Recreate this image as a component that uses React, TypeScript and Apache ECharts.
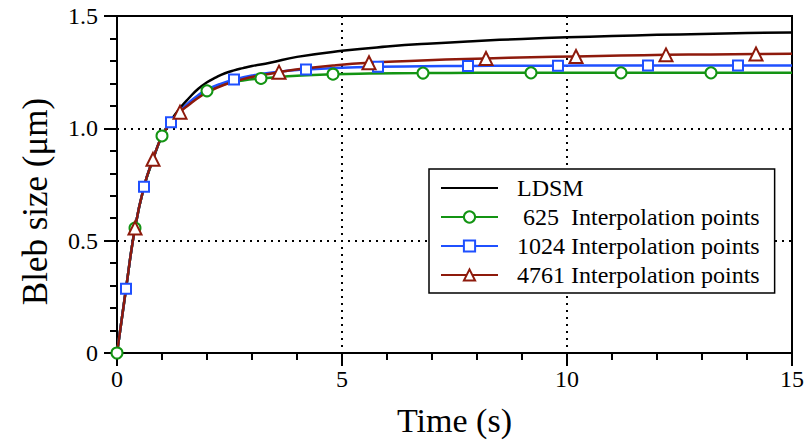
import React, { useEffect, useRef } from "react";
import * as echarts from "echarts";

const xTicks = [0, 5, 10, 15];
const yTicks = [0, 0.5, 1.0, 1.5];

const seriesNames = [
  "LDSM",
  " 625  Interpolation points",
  "1024 Interpolation points",
  "4761 Interpolation points",
];

const ldsmT = [0, 0.2, 0.4, 0.6, 0.8, 1.0, 1.2, 1.4, 1.6, 1.8, 2.0, 2.2, 2.4, 2.6, 2.8, 3.0, 3.4, 4.0, 5.0, 6.0, 7.0, 8.0, 9.0, 10, 11, 12, 13, 14, 15];
const ldsmV = [0, 0.286, 0.556, 0.74, 0.862, 0.966, 1.035, 1.09, 1.135, 1.175, 1.205, 1.227, 1.245, 1.258, 1.268, 1.277, 1.292, 1.318, 1.345, 1.364, 1.378, 1.389, 1.398, 1.405, 1.411, 1.416, 1.42, 1.424, 1.427];

const g625T = [0, 0.2, 0.4, 0.6, 0.8, 1.0, 1.2, 1.4, 1.6, 1.8, 2.0, 2.4, 2.8, 3.2, 3.6, 4.0, 4.8, 5.6, 6.8, 8.0, 9.2, 10.2, 11.2, 12.2, 13.2, 14.2, 15];
const g625V = [0, 0.285, 0.556, 0.738, 0.86, 0.966, 1.028, 1.075, 1.11, 1.14, 1.167, 1.197, 1.213, 1.222, 1.229, 1.234, 1.241, 1.244, 1.246, 1.247, 1.247, 1.247, 1.247, 1.247, 1.247, 1.247, 1.247];
const g625Marks = [0, 0.4, 1.0, 2.0, 3.2, 4.8, 6.8, 9.2, 11.2, 13.2];

const b1024T = [0, 0.2, 0.4, 0.6, 0.8, 1.0, 1.2, 1.4, 1.6, 1.8, 2.0, 2.3, 2.6, 3.0, 3.5, 4.2, 5.0, 5.8, 6.8, 7.8, 8.8, 9.8, 10.8, 11.8, 12.8, 13.8, 15];
const b1024V = [0, 0.286, 0.556, 0.74, 0.862, 0.966, 1.027, 1.075, 1.115, 1.147, 1.172, 1.198, 1.217, 1.235, 1.25, 1.262, 1.27, 1.274, 1.276, 1.278, 1.279, 1.279, 1.28, 1.28, 1.28, 1.28, 1.28];
const b1024Marks = [0.2, 0.6, 1.2, 2.6, 4.2, 5.8, 7.8, 9.8, 11.8, 13.8];

const r4761T = [0, 0.2, 0.4, 0.6, 0.8, 1.0, 1.2, 1.4, 1.6, 1.8, 2.0, 2.4, 2.8, 3.2, 3.6, 4.2, 4.8, 5.6, 6.5, 7.3, 8.2, 9.2, 10.2, 11.2, 12.2, 13.2, 14.2, 15];
const r4761V = [0, 0.286, 0.556, 0.74, 0.862, 0.966, 1.025, 1.072, 1.105, 1.135, 1.16, 1.195, 1.219, 1.236, 1.25, 1.267, 1.28, 1.292, 1.3, 1.306, 1.311, 1.316, 1.32, 1.324, 1.327, 1.329, 1.331, 1.332];
const r4761Marks = [0.4, 0.8, 1.4, 3.6, 5.6, 8.2, 10.2, 12.2, 14.2];

const FONT = "'Liberation Serif', 'Times New Roman', 'DejaVu Serif', serif";
const GREEN = "#139413";
const BLUE = "#1f50ff";
const RED = "#8e1a0c";

function build(T: number[], V: number[], marks: number[]) {
  return T.map((t, i) => {
    const item: any = { value: [t, V[i]] };
    if (!marks.includes(t)) item.symbol = "none";
    return item;
  });
}

export default function App() {
  const ref = useRef<HTMLDivElement>(null);
  useEffect(() => {
    document.body.style.margin = "0";
    const chart = echarts.init(ref.current!, null, { renderer: "svg" });
    const lineBase = {
      type: "line" as const,
      smooth: true,
      showAllSymbol: true,
      z: 3,
    };
    chart.setOption({
      animation: false,
      backgroundColor: "#fff",
      textStyle: { fontFamily: FONT },
      grid: {
        left: 117,
        right: 14,
        top: 16,
        bottom: 90,
        show: true,
        borderColor: "#000",
        borderWidth: 2,
        backgroundColor: "transparent",
      },
      legend: {
        orient: "vertical",
        left: 429,
        top: 169,
        padding: [7, 15, 6, 11],
        backgroundColor: "#fff",
        borderColor: "#000",
        borderWidth: 1.5,
        borderRadius: 0,
        itemWidth: 57,
        itemHeight: 14,
        itemGap: 5,
        textStyle: {
          fontFamily: FONT,
          fontSize: 24,
          color: "#000",
          padding: [0, 0, 0, 14],
          lineHeight: 24,
        },
        data: seriesNames,
      },
      xAxis: {
        type: "value",
        min: 0,
        max: 15,
        interval: 5,
        name: "Time (s)",
        nameLocation: "middle",
        nameGap: 50,
        nameTextStyle: { fontFamily: FONT, fontSize: 34, color: "#000" },
        axisLine: { lineStyle: { color: "#000", width: 2 } },
        axisTick: { show: true, length: 13, lineStyle: { color: "#000", width: 2 } },
        minorTick: { show: true, splitNumber: 5, length: 7, lineStyle: { color: "#000", width: 2 } },
        axisLabel: {
          fontFamily: FONT,
          fontSize: 24,
          color: "#000",
          margin: 14,
          formatter: (v: number) => (xTicks.includes(v) ? String(v) : ""),
        },
        splitLine: { show: true, lineStyle: { color: "#000", width: 2, type: [2, 5] } },
      },
      yAxis: {
        type: "value",
        min: 0,
        max: 1.5,
        interval: 0.5,
        name: "Bleb size (μm)",
        nameLocation: "middle",
        nameGap: 64,
        nameTextStyle: { fontFamily: FONT, fontSize: 35, color: "#000", padding: [0, 34, 0, 0] },
        axisLine: { show: true, lineStyle: { color: "#000", width: 2 } },
        axisTick: { show: true, length: 13, lineStyle: { color: "#000", width: 2 } },
        minorTick: { show: true, splitNumber: 5, length: 7, lineStyle: { color: "#000", width: 2 } },
        axisLabel: {
          fontFamily: FONT,
          fontSize: 24,
          color: "#000",
          margin: 19,
          formatter: (v: number) => {
            const t = yTicks.find((y) => Math.abs(y - v) < 1e-9);
            if (t === undefined) return "";
            return t === 0 ? "0" : t.toFixed(1);
          },
        },
        splitLine: { show: true, lineStyle: { color: "#000", width: 2, type: [2, 5] } },
      },
      series: [
        {
          ...lineBase,
          name: seriesNames[0],
          symbol: "none",
          lineStyle: { color: "#000", width: 2.5 },
          itemStyle: { color: "transparent", borderColor: "transparent", borderWidth: 0 },
          data: ldsmT.map((t, i) => [t, ldsmV[i]]),
        },
        {
          ...lineBase,
          name: seriesNames[1],
          symbol: "circle",
          symbolSize: 11,
          lineStyle: { color: GREEN, width: 2.5 },
          itemStyle: { color: "#fff", borderColor: GREEN, borderWidth: 2 },
          data: build(g625T, g625V, g625Marks),
        },
        {
          ...lineBase,
          name: seriesNames[2],
          symbol: "rect",
          symbolSize: 10,
          lineStyle: { color: BLUE, width: 2.5 },
          itemStyle: { color: "#fff", borderColor: BLUE, borderWidth: 2 },
          data: build(b1024T, b1024V, b1024Marks),
        },
        {
          ...lineBase,
          name: seriesNames[3],
          symbol: "triangle",
          symbolSize: 13,
          lineStyle: { color: RED, width: 2.5 },
          itemStyle: { color: "#fff", borderColor: RED, borderWidth: 2 },
          data: build(r4761T, r4761V, r4761Marks),
        },
      ],
    });
    return () => chart.dispose();
  }, []);
  return (
    <div
      ref={ref}
      style={{ position: "fixed", left: 0, top: 0, width: 807, height: 443 }}
    />
  );
}
